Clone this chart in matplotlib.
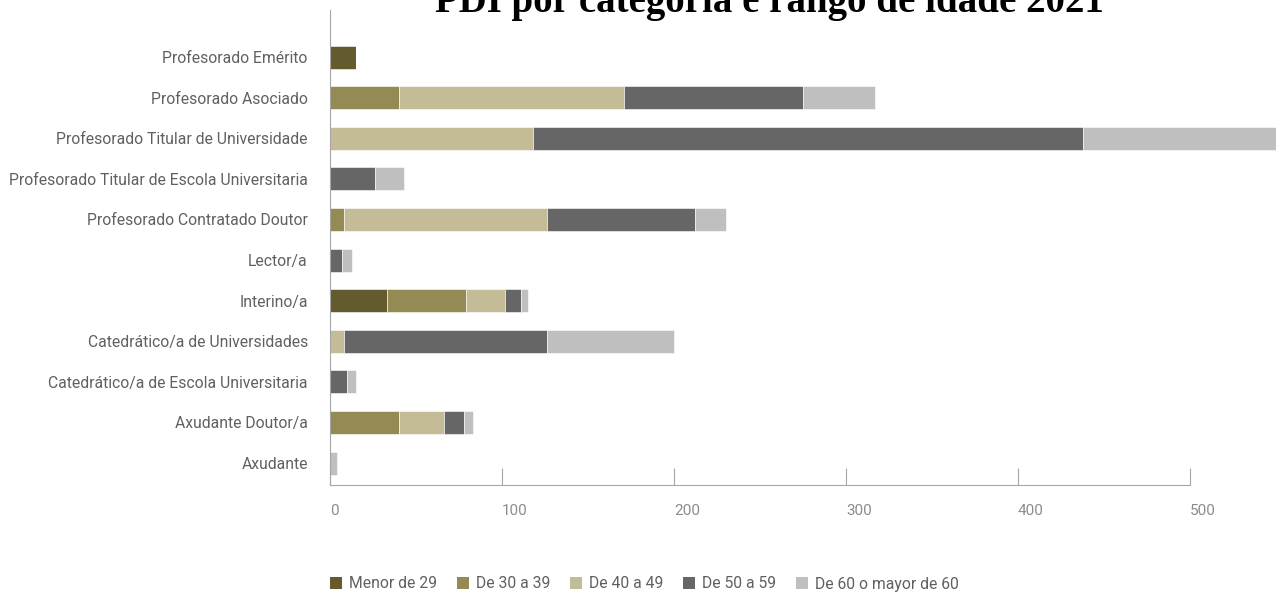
"""
PDI por categoría e rango de idade 2021 — barras horizontais apiladas.
Saída: out.png
"""

import numpy as np
import matplotlib
matplotlib.use('Agg')
import matplotlib.pyplot as plt
from matplotlib.patches import Patch

# ── Datos ────────────────────────────────────────────────────────────
categories = [
    'Profesorado Emérito',
    'Profesorado Asociado',
    'Profesorado Titular de Universidade',
    'Profesorado Titular de Escola Universitaria',
    'Profesorado Contratado Doutor',
    'Lector/a',
    'Interino/a',
    'Catedrático/a de Universidades',
    'Catedrático/a de Escola Universitaria',
    'Axudante Doutor/a',
    'Axudante',
]
age_groups = ['Menor de 29', 'De 30 a 39', 'De 40 a 49', 'De 50 a 59',
              'De 60 o mayor de 60']

menor_29 = [15, 0, 0, 0, 0, 0, 33, 0, 0, 0, 0]
de_30_39 = [0, 40, 0, 0, 8, 0, 46, 0, 0, 40, 0]
de_40_49 = [0, 131, 118, 0, 118, 0, 23, 8, 0, 26, 0]
de_50_59 = [0, 104, 320, 26, 86, 7, 9, 118, 10, 12, 0]
de_60_mas = [0, 42, 120, 17, 18, 6, 4, 74, 5, 5, 4]

x_ticks = [0, 100, 200, 300, 400, 500]

COLORS = ['#635a2e', '#948a54', '#c4bc96', '#666666', '#bfbfbf']
LABEL_GRAY = '#606060'
TICK_GRAY = '#8c8c8c'
AXIS_GRAY = '#a6a6a6'

plt.rcParams['font.family'] = ['Roboto', 'DejaVu Sans']

fig = plt.figure(figsize=(12.76, 5.92), dpi=100, facecolor='white')
ax = fig.add_axes([330 / 1276, 1 - 485 / 592, 1 - 330 / 1276, 475 / 592])

series = [menor_29, de_30_39, de_40_49, de_50_59, de_60_mas]
n = len(categories)
y = np.arange(n)[::-1]
left = np.zeros(n)
for vals, color in zip(series, COLORS):
    vals = np.array(vals, dtype=float)
    ax.barh(y, vals, left=left, height=0.57, color=color,
            edgecolor='white', linewidth=0.4)
    left += vals

ax.set_xlim(0, 550)
ax.set_ylim(-0.54, n - 1 + 1.16)

ax.set_yticks(y)
ax.set_yticklabels(categories, fontsize=11.3, color=LABEL_GRAY)
ax.tick_params(axis='y', length=0, pad=16)

ax.set_xticks(x_ticks)
ax.set_xticklabels([str(t) for t in x_ticks], fontsize=11, color=TICK_GRAY,
                   ha='left')
ax.tick_params(axis='x', direction='in', length=12, width=0.8,
               color=AXIS_GRAY, pad=14)

for s in ['top', 'right']:
    ax.spines[s].set_visible(False)
ax.spines['left'].set_color(AXIS_GRAY)
ax.spines['bottom'].set_color(AXIS_GRAY)
ax.spines['bottom'].set_bounds(0, 500)

# Título (recortado na parte superior, como no orixinal)
fig.text(769 / 1276, 1 - 12 / 592, 'PDI por categoría e rango de idade 2021',
         ha='center', va='baseline', fontsize=28, fontweight='bold',
         family='Liberation Serif', color='black')

handles = [Patch(facecolor=c, edgecolor='none') for c in COLORS]
fig.legend(handles, age_groups, loc='center left',
           bbox_to_anchor=(330 / 1276, 1 - 584 / 592), ncol=5, frameon=False,
           fontsize=11.3, labelcolor=LABEL_GRAY, handlelength=0.75,
           handleheight=0.75, handletextpad=0.45, columnspacing=1.27,
           borderaxespad=0, borderpad=0)

fig.savefig('out.png', dpi=100, facecolor='white')
